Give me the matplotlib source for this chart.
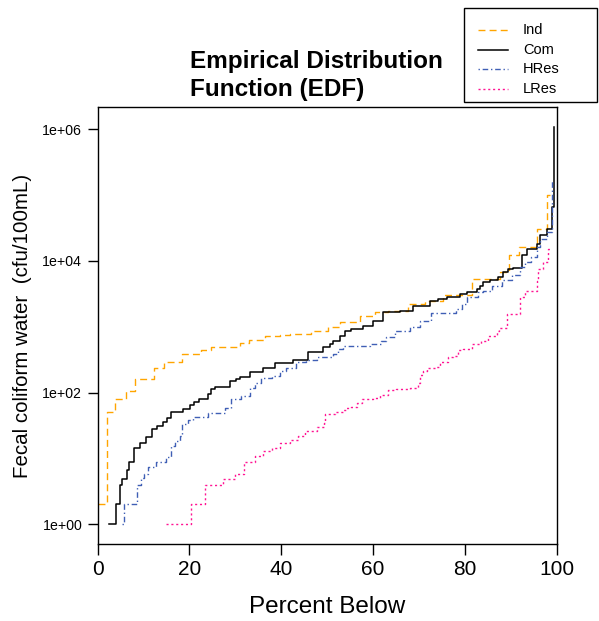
import matplotlib
matplotlib.use('Agg')
import matplotlib.pyplot as plt
from matplotlib.lines import Line2D
from matplotlib.patches import Rectangle

plt.rcParams['font.family'] = ['Liberation Sans', 'DejaVu Sans']

# Empirical distribution steps: percent below -> fecal coliform (cfu/100mL)
ind_pct = [0, 2.0, 3.9, 6.1, 8.2, 12.2, 14.4, 18.5, 22.6, 24.8,
           31.0, 33.0, 36.4, 39.7, 41.9, 46.5, 50.1, 52.8, 57.1, 60.4,
           63.2, 67.6, 71.3, 75.2, 81.5, 87.6, 89.6, 91.8, 95.8, 97.9, 98.6]
ind_val = [2, 50, 79, 105, 163, 233, 297, 384, 448, 488,
           567, 635, 716, 758, 790, 850, 980, 1200, 1480, 1660,
           1760, 2240, 2500, 3050, 5370, 6800, 12500, 16300, 31000, 100000, 100000]

com_pct = [2.6, 4.1, 4.9, 5.3, 6.4, 6.8, 7.9, 9.3, 10.6, 11.8,
           13.0, 14.2, 15.1, 16.1, 18.6, 20.1, 21.1, 22.2, 24.0, 24.8,
           25.5, 28.8, 30.2, 31.0, 33.1, 36.0, 38.6, 42.5, 45.8, 49.1,
           50.6, 51.2, 52.8, 53.8, 55.3, 57.8, 60.0, 62.2, 65.8, 68.7,
           72.4, 74.2, 76.0, 76.7, 78.9, 80.4, 82.6, 83.3, 84.0, 85.5,
           87.3, 88.4, 89.4, 90.5, 92.4, 93.5, 95.6, 96.4, 97.8, 98.9, 99.5]
com_val = [1, 2, 4, 4.9, 6.7, 8.8, 14.5, 17, 21, 28,
           31, 35.5, 41.5, 50, 57, 64, 72, 79, 94, 115,
           123, 150, 163, 170, 205, 235, 277, 310, 407, 488,
           550, 615, 730, 870, 930, 1020, 1240, 1660, 1760, 2040,
           2460, 2660, 2820, 2880, 3170, 3370, 3780, 4230, 4780, 5190,
           5690, 6760, 7430, 7780, 12200, 15400, 18400, 24600, 31000, 66000, 1100000]

hres_pct = [5.4, 5.7, 8.6, 9.5, 10.2, 11.0, 12.8, 15.0, 16.1, 16.8,
            17.9, 18.5, 19.7, 20.8, 24.0, 27.7, 29.1, 31.3, 33.1, 34.2,
            35.7, 37.9, 39.7, 41.1, 43.3, 45.5, 47.7, 51.3, 52.4, 53.5,
            59.3, 61.8, 62.9, 64.7, 68.0, 70.2, 72.7, 78.0, 79.3, 80.4,
            82.9, 84.0, 85.8, 88.0, 90.2, 92.0, 93.1, 94.5, 95.6, 96.4,
            97.8, 98.9]
hres_val = [1, 2, 4, 5, 5.9, 7.4, 8.8, 10.4, 15.3, 18.2,
            21.7, 33.6, 38, 43, 49.5, 59, 79, 89, 119, 141,
            165, 179, 214, 240, 292, 314, 342, 384, 457, 504,
            550, 615, 690, 870, 980, 1240, 1620, 1860, 2240, 2820,
            3370, 3550, 4230, 5190, 6030, 8100, 9660, 11500, 16300, 21900,
            27600, 170000]

lres_pct = [15.0, 20.4, 23.3, 27.3, 29.9, 32.0, 34.2, 36.0, 37.9, 39.7,
            41.9, 43.7, 45.1, 47.7, 49.3, 49.6, 51.7, 53.5, 54.2, 55.3,
            56.4, 57.5, 60.0, 61.5, 63.3, 65.1, 68.0, 69.8, 70.2, 70.9,
            71.7, 73.5, 74.6, 76.4, 77.5, 78.6, 79.6, 81.5, 83.6, 85.1,
            86.9, 87.5, 89.1, 92.0, 93.1, 95.6, 96.0, 97.1, 98.2, 98.7]
lres_val = [1, 2, 4, 4.9, 5.9, 8.7, 10.8, 12.9, 14.5, 17.3,
            19.4, 22.3, 25.9, 29.9, 35, 48, 50, 54, 59, 61,
            70, 79, 84, 91, 110, 115, 119, 142, 184, 214,
            240, 245, 292, 342, 363, 448, 468, 550, 615, 730,
            870, 950, 1580, 2820, 3550, 5030, 7600, 9660, 15400, 15600]

labels = ['Ind', 'Com', 'HRes', 'LRes']
x_ticks = [0, 20, 40, 60, 80, 100]
y_ticks = [1, 1e2, 1e4, 1e6]
y_ticklabels = ['1e+00', '1e+02', '1e+04', '1e+06']

# estilos por serie
styles = {
    'Ind': dict(color='#FFA500', lw=1.0, dashes=(5, 3)),
    'Com': dict(color='black', lw=1.1, linestyle='-'),
    'HRes': dict(color='#3F5FB5', lw=1.0, dashes=(1, 2, 4, 2)),
    'LRes': dict(color='#FF1493', lw=1.0, dashes=(1.5, 2)),
}

fig = plt.figure(figsize=(5.99, 6.21), dpi=100)
ax = fig.add_axes([0.1628, 0.1232, 0.7666, 0.7040])

series = [(ind_pct, ind_val), (com_pct, com_val), (hres_pct, hres_val), (lres_pct, lres_val)]
for lab, (p, v) in zip(labels, series):
    ax.step(p, v, where='post', **styles[lab])

ax.set_yscale('log')
ax.set_xlim(0, 100)
ax.set_ylim(0.493, 2.16e6)
ax.set_xticks(x_ticks)
ax.set_xticklabels([str(t) for t in x_ticks])
ax.set_yticks(y_ticks)
ax.set_yticklabels(y_ticklabels)
ax.minorticks_off()
ax.tick_params(axis='x', direction='out', length=8, width=1, labelsize=15, pad=3)
ax.tick_params(axis='y', direction='out', length=7, width=1, labelsize=10.2, pad=4)
for spine in ax.spines.values():
    spine.set_linewidth(1.0)

ax.set_xlabel('Percent Below', fontsize=17.5)
ax.xaxis.set_label_coords(0.5, -0.117)
ax.set_ylabel('Fecal coliform water  (cfu/100mL)', fontsize=14.8)
ax.yaxis.set_label_coords(-0.143, 0.5)

fig.text(0.317, 1 - 50 / 621, 'Empirical Distribution\nFunction (EDF)',
         fontsize=17.5, fontweight='bold', ha='left', va='top', linespacing=1.28)

# leyenda dibujada a mano (caja fija arriba a la derecha)
W, H = 599.0, 621.0
fig.patches.append(Rectangle((464 / W, 1 - 102 / H), 133 / W, 94 / H,
                             transform=fig.transFigure, fill=False,
                             edgecolor='black', lw=1.0))
for i, lab in enumerate(labels):
    yy = 1 - (30 + 19.7 * i) / H
    st = dict(styles[lab])
    fig.lines.append(Line2D([478 / W, 508 / W], [yy, yy], transform=fig.transFigure, **st))
    fig.text(523 / W, yy, lab, fontsize=10.5, ha='left', va='center')

plt.savefig('out.png', dpi=100)
